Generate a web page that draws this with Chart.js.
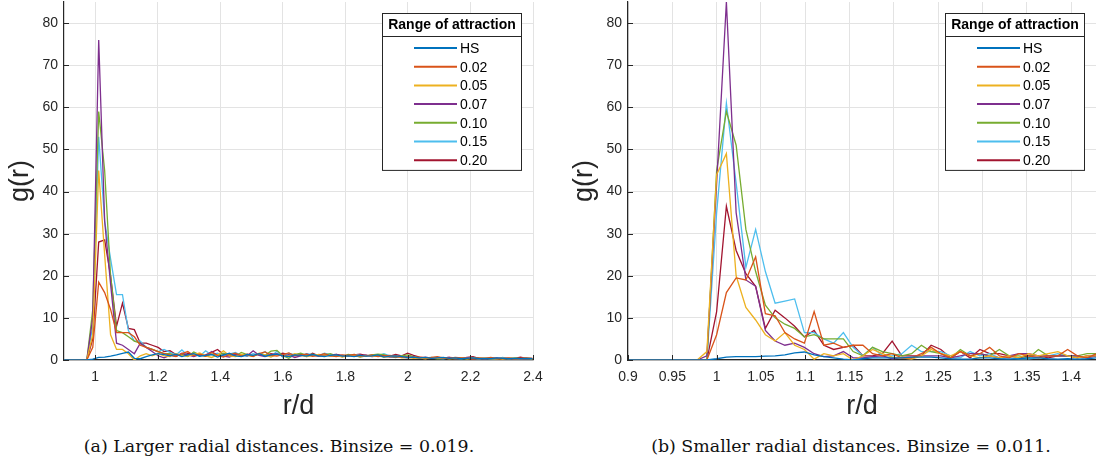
<!DOCTYPE html>
<html>
<head>
<meta charset="utf-8">
<script src="https://cdn.jsdelivr.net/npm/chart.js@4.4.1/dist/chart.umd.min.js"></script>
<style>
  body { margin: 0; width: 1096px; height: 473px; background: #fff; position: relative; overflow: hidden; }
  .panel { position: absolute; top: 0; width: 548px; height: 430px; }
  .cap { position: absolute; top: 436px; font-family: "DejaVu Serif", serif; font-size: 17.4px; color: #111; white-space: nowrap; transform: translateX(-50%); }
</style>
</head>
<body>
<div class="panel" style="left:0"><canvas id="chartA"></canvas></div>
<div class="panel" style="left:548px"><canvas id="chartB"></canvas></div>
<div class="cap" style="left:279px">(a) Larger radial distances. Binsize = 0.019.</div>
<div class="cap" style="left:851px">(b) Smaller radial distances. Binsize = 0.011.</div>
<script>
// legend labels and MATLAB default line colours
const seriesLabels = ['HS', '0.02', '0.05', '0.07', '0.10', '0.15', '0.20'];
const seriesColors = ['#0072BD', '#D95319', '#EDB120', '#7E2F8E', '#77AC30', '#4DBEEE', '#A2142F'];

const yTicks = [0, 10, 20, 30, 40, 50, 60, 70, 80];
const xTicksA = [1, 1.2, 1.4, 1.6, 1.8, 2, 2.2, 2.4];
const xTicksB = [0.9, 0.95, 1, 1.05, 1.1, 1.15, 1.2, 1.25, 1.3, 1.35, 1.4];

// (a) bin centres, binsize 0.019
const rA = [0.897, 0.916, 0.935, 0.954, 0.973, 0.992, 1.011, 1.030, 1.049, 1.068,
  1.087, 1.106, 1.125, 1.144, 1.163, 1.182, 1.201, 1.220, 1.239, 1.258,
  1.277, 1.296, 1.315, 1.334, 1.353, 1.372, 1.391, 1.410, 1.429, 1.448,
  1.467, 1.486, 1.505, 1.524, 1.543, 1.562, 1.581, 1.600, 1.619, 1.638,
  1.657, 1.676, 1.695, 1.714, 1.733, 1.752, 1.771, 1.790, 1.809, 1.828,
  1.847, 1.866, 1.885, 1.904, 1.923, 1.942, 1.961, 1.980, 1.999, 2.018,
  2.037, 2.056, 2.075, 2.094, 2.113, 2.132, 2.151, 2.170, 2.189, 2.208,
  2.227, 2.246, 2.265, 2.284, 2.303, 2.322, 2.341, 2.360, 2.379, 2.398];

const gA_HS = [0, 0, 0, 0, 0, 0.2, 0.6, 0.7, 0.9, 1.2, 1.6, 1.9, 0.4, 0.3, 0.8, 1.2, 1.5, 1.3,
  1.0, 1.4, 0.8, 1.2, 1.5, 0.9, 1.1, 1.3, 0.7, 1.2, 1.6, 1.0, 0.8, 1.3, 1.1, 1.5, 0.9, 1.2, 1.4, 1.0,
  0.8, 1.2, 1.1, 0.9, 1.3, 1.0, 0.8, 1.1, 1.2, 0.9, 1.0, 0.8, 1.1, 0.9, 1.0, 1.2, 0.7, 0.9, 1.0, 0.8,
  0.6, 0.7, 0.5, 0.6, 0.4, 0.5, 0.6, 0.4, 0.5, 0.3, 0.4, 0.5, 0.3, 0.4, 0.3, 0.5, 0.4, 0.3, 0.4, 0.3,
  0.4, 0.3];
const gA_002 = [0, 0, 0, 0, 0, 3, 18.5, 16, 12, 6.5, 6.5, 6.5, 5.5, 3.5, 3, 2.5, 2, 1.5,
  1.2, 0.8, 1.5, 2.0, 1.0, 1.4, 0.9, 1.8, 1.1, 0.7, 1.3, 1.6, 1.0, 1.2, 0.8, 1.5, 1.9, 1.1, 0.9, 1.3,
  1.7, 1.0, 1.2, 1.4, 0.9, 1.1, 1.5, 1.0, 0.8, 1.2, 1.1, 1.3, 0.9, 1.0, 1.2, 0.8, 1.0, 1.1, 0.9, 0.7,
  0.8, 0.6, 0.7, 0.5, 0.6, 0.8, 0.5, 0.4, 0.6, 0.5, 0.4, 0.3, 0.5, 0.4, 0.6, 0.3, 0.4, 0.5, 0.3, 0.4,
  0.5, 0.4];
const gA_005 = [0, 0, 0, 0, 0, 6, 45, 25, 6, 2.5, 2.5, 1.5, 0, 1, 1.5, 1, 1.5, 1,
  0.8, 1.5, 1.1, 0.9, 1.3, 1.7, 1.0, 0.6, 1.2, 2.2, 1.0, 0.8, 1.4, 1.1, 0.9, 1.6, 1.2, 0.7, 1.3, 1.0,
  0.9, 1.5, 1.1, 0.8, 1.0, 1.3, 1.2, 0.9, 1.1, 0.7, 1.0, 1.2, 0.8, 1.1, 0.9, 1.0, 0.7, 0.8, 1.0, 0.5,
  0.6, 0.4, 0.5, 0.3, 0.6, 0.4, 0.5, 0.3, 0.4, 0.5, 0.3, 0.4, 0.3, 0.5, 0.3, 0.4, 0.2, 0.4, 0.3, 0.3,
  0.4, 0.3];
const gA_007 = [0, 0, 0, 0, 0, 10, 76, 33, 18, 4, 3.5, 2.5, 1.5, 4, 3, 2, 1, 0.5,
  1.1, 0.9, 1.6, 1.2, 0.8, 1.3, 1.0, 2.0, 1.1, 0.9, 0.7, 1.4, 1.2, 1.0, 2.2, 1.1, 0.8, 1.3, 1.5, 0.9,
  1.2, 0.6, 1.0, 1.4, 1.1, 0.9, 1.2, 1.0, 1.3, 0.8, 1.1, 0.9, 1.0, 1.2, 0.8, 1.0, 0.9, 0.7, 0.8, 0.6,
  0.5, 0.7, 0.4, 0.6, 0.5, 0.4, 0.5, 0.6, 0.3, 0.4, 0.5, 0.3, 0.4, 0.3, 0.4, 0.5, 0.3, 0.4, 0.3, 0.2,
  0.3, 0.4];
const gA_010 = [0, 0, 0, 0, 0, 12, 59, 45, 20, 7, 6.5, 5.5, 4.5, 4, 3, 2.5, 2, 1.5,
  1.5, 1.0, 1.3, 0.8, 1.9, 1.2, 0.9, 1.4, 1.1, 1.6, 1.2, 0.9, 1.8, 1.3, 1.0, 1.5, 1.1, 2.1, 2.3, 1.0,
  0.4, 1.3, 1.6, 1.1, 1.4, 0.9, 1.2, 1.5, 1.0, 0.8, 1.3, 1.1, 0.7, 1.0, 1.2, 1.4, 1.3, 0.8, 0.6, 1.0,
  1.2, 0.8, 0.5, 0.4, 0.5, 0.3, 0.4, 0.5, 0.3, 0.4, 0.3, 0.5, 0.4, 0.3, 0.4, 0.3, 0.4, 0.3, 0.5, 0.3,
  0.4, 0.3];
const gA_015 = [0, 0, 0, 0, 0, 8, 53, 33, 24, 15.5, 15.5, 7, 4.5, 4.5, 3, 2.5, 2, 2.5,
  1.8, 1.2, 2.4, 1.0, 1.4, 0.9, 2.2, 1.2, 1.6, 1.0, 1.4, 1.8, 1.1, 0.9, 1.5, 1.2, 2.0, 0.8, 2.1, 0.6,
  1.6, 1.2, 1.0, 1.5, 1.3, 1.0, 1.6, 1.2, 0.9, 1.1, 1.0, 1.3, 1.1, 0.9, 1.2, 1.0, 1.5, 1.0, 0.7, 0.9,
  0.6, 0.5, 0.4, 0.5, 0.6, 0.4, 0.3, 0.5, 0.4, 0.3, 0.5, 0.4, 0.3, 0.4, 0.3, 0.2, 0.6, 0.3, 0.4, 0.3,
  0.4, 0.3];
const gA_020 = [0, 0, 0, 0, 0, 5, 28, 28.5, 20, 8, 13.5, 7.5, 7.2, 4, 4, 3.5, 3, 2,
  2.2, 1.3, 1.0, 1.6, 1.4, 1.1, 1.2, 1.8, 2.5, 1.3, 1.0, 1.2, 0.9, 1.4, 1.1, 1.3, 1.0, 1.5, 1.2, 1.6,
  1.3, 1.2, 1.4, 0.8, 1.6, 1.0, 1.1, 1.2, 1.3, 1.1, 1.0, 1.2, 1.4, 1.1, 1.0, 1.2, 1.1, 0.9, 1.3, 1.0,
  1.6, 1.1, 0.7, 0.6, 0.5, 0.4, 0.5, 0.6, 0.5, 0.4, 0.6, 0.8, 0.4, 0.3, 0.4, 0.3, 0.4, 0.3, 0.4, 0.7,
  0.4, 0.3];

// (b) bin centres, binsize 0.011
const rB = [0.901, 0.912, 0.923, 0.934, 0.945, 0.956, 0.967, 0.978, 0.989, 1.000,
  1.011, 1.022, 1.033, 1.044, 1.055, 1.066, 1.077, 1.088, 1.099, 1.110,
  1.121, 1.132, 1.143, 1.154, 1.165, 1.176, 1.187, 1.198, 1.209, 1.220,
  1.231, 1.242, 1.253, 1.264, 1.275, 1.286, 1.297, 1.308, 1.319, 1.330,
  1.341, 1.352, 1.363, 1.374, 1.385, 1.396, 1.407, 1.418, 1.429];

const gB_HS = [0, 0, 0, 0, 0, 0, 0, 0, 0, 0.3, 0.7, 0.8, 0.8, 0.8, 0.9, 1.0, 1.2, 1.7, 1.9, 1.2,
  0.8, 0.5, 0.2, 0, 0.3, 0.5, 0.5, 0.5, 0.5, 0.7, 0.7, 0.7, 0.5, 0.3, 0.2, 0.2, 0.5, 0.5, 0.3, 0.2,
  0.3, 0.5, 0.5, 0.3, 0.2, 0.3, 0.2, 0.3, 0.5];
const gB_002 = [0, 0, 0, 0, 0, 0, 0, 0, 0, 6, 16, 19.5, 19, 24.5, 11, 10.5, 6.5, 5, 4, 11.5,
  3.5, 4, 3, 3.5, 3.5, 1.5, 1, 1.5, 0.5, 0.5, 1.5, 3, 1.5, 0.5, 2, 1, 1.5, 3, 1, 0.5,
  1.5, 1, 0.5, 1, 1, 2.5, 1, 0.5, 1.5];
const gB_005 = [0, 0, 0, 0, 0, 0, 0, 0, 2, 44, 49, 20, 12.5, 9.5, 6, 4.5, 6.5, 3.5, 2.5, 0.2,
  1.5, 1, 1.5, 0, 1, 2.5, 1.5, 0.7, 0.5, 0.2, 1, 2.5, 1.5, 1, 2, 1, 0.5, 1, 0.5, 1,
  0.5, 1.5, 1, 1.5, 2, 1, 0.5, 1, 1];
const gB_007 = [0, 0, 0, 0, 0, 0, 0, 0, 1, 42, 85, 35, 19, 17.5, 7, 4.5, 3.5, 4, 3, 1.5,
  0.8, 1, 2, 0.5, 0.5, 0.8, 1, 0.3, 0.5, 0.5, 1, 1, 1, 0.5, 1, 1.5, 1.5, 1, 0.5, 1,
  1.5, 1.5, 1, 1, 1, 1, 1, 0.5, 1];
const gB_010 = [0, 0, 0, 0, 0, 0, 0, 0, 0, 45, 59, 51, 31, 21, 13, 10, 8.5, 7.5, 5.5, 6,
  5, 5, 5, 2, 1, 3, 2, 1.5, 1, 1.5, 3.5, 2, 1.5, 0.5, 2.5, 1, 1.5, 1, 2.5, 1,
  1, 0.5, 2.5, 1, 1, 1, 1, 1.5, 1.5];
const gB_015 = [0, 0, 0, 0, 0, 0, 0, 0, 0, 35, 61, 42, 22, 31, 21, 13.5, 14, 14.5, 6.5, 6.5,
  5, 4, 6.5, 3, 1, 3, 1, 1, 1.5, 3.5, 2, 2, 2, 1, 0.5, 2, 1, 1.5, 0.5, 0.5,
  0.3, 0.3, 0.5, 1, 1.5, 1, 1, 0.5, 1.5];
const gB_020 = [0, 0, 0, 0, 0, 0, 0, 0, 0, 11.5, 36.5, 26, 20.5, 17.5, 7.5, 11.8, 10, 8, 5.5, 7,
  3.5, 2.5, 3, 3.5, 1, 1, 1.5, 4.5, 1, 1, 1, 3.5, 2.5, 0.5, 2, 0.5, 2.5, 1.5, 1.5, 1,
  0.5, 1, 1, 0.5, 1, 1, 0.5, 1, 1];

const seriesA = [gA_HS, gA_002, gA_005, gA_007, gA_010, gA_015, gA_020];
const seriesB = [gB_HS, gB_002, gB_005, gB_007, gB_010, gB_015, gB_020];

const axisColor = '#262626';
const gridColor = '#e3e3e3';
const tickFont = { family: '"Liberation Sans", Arial, sans-serif', size: 14 };
const titleFont = { family: '"Liberation Sans", Arial, sans-serif', size: 27 };

function fmt(v) {
  return String(Number(v.toFixed(2)));
}

// boxed MATLAB-style legend with a title row
const legendBox = {
  id: 'legendBox',
  afterDraw(chart) {
    const { ctx, chartArea } = chart;
    const sets = chart.data.datasets;
    const w = 139, titleH = 23, rowH = 18.7;
    const h = titleH + sets.length * rowH + 3;
    const x0 = Math.round(chartArea.right - 12 - w), y0 = Math.round(chartArea.top + 11);
    ctx.save();
    ctx.fillStyle = '#fff';
    ctx.fillRect(x0, y0, w, h);
    ctx.strokeStyle = axisColor;
    ctx.lineWidth = 1;
    ctx.strokeRect(x0 + 0.5, y0 + 0.5, w, h);
    ctx.beginPath();
    ctx.moveTo(x0, y0 + titleH + 0.5);
    ctx.lineTo(x0 + w, y0 + titleH + 0.5);
    ctx.stroke();
    ctx.fillStyle = '#000';
    ctx.font = 'bold 14px "Liberation Sans", Arial, sans-serif';
    ctx.textAlign = 'center';
    ctx.textBaseline = 'middle';
    ctx.fillText('Range of attraction', x0 + w / 2 + 0.5, y0 + titleH / 2 + 1);
    ctx.font = '14px "Liberation Sans", Arial, sans-serif';
    ctx.textAlign = 'left';
    sets.forEach((ds, i) => {
      const y = y0 + titleH + 12 + i * rowH;
      ctx.strokeStyle = ds.borderColor;
      ctx.lineWidth = 2;
      ctx.beginPath();
      ctx.moveTo(x0 + 32, y);
      ctx.lineTo(x0 + 75, y);
      ctx.stroke();
      ctx.fillStyle = '#000';
      ctx.fillText(ds.label, x0 + 78, y + 1);
    });
    ctx.restore();
  }
};

// short inward tick marks on the two axis lines
const innerTicks = {
  id: 'innerTicks',
  afterDatasetsDraw(chart) {
    const { ctx, chartArea, scales } = chart;
    ctx.save();
    ctx.strokeStyle = axisColor;
    ctx.lineWidth = 1;
    ctx.beginPath();
    scales.x.ticks.forEach(t => {
      const x = Math.round(scales.x.getPixelForValue(t.value)) + 0.5;
      ctx.moveTo(x, chartArea.bottom);
      ctx.lineTo(x, chartArea.bottom - 5);
    });
    scales.y.ticks.forEach(t => {
      const y = Math.round(scales.y.getPixelForValue(t.value)) + 0.5;
      ctx.moveTo(chartArea.left, y);
      ctx.lineTo(chartArea.left + 5, y);
    });
    ctx.stroke();
    ctx.restore();
  }
};

function makeChart(id, rs, series, xMin, xMax, xTicks, padding) {
  const datasets = series.map((vals, i) => ({
    label: seriesLabels[i],
    data: vals.map((g, k) => ({ x: rs[k], y: g })),
    borderColor: seriesColors[i],
    backgroundColor: seriesColors[i],
    borderWidth: 1.3,
    pointRadius: 0,
    tension: 0,
    fill: false
  }));
  return new Chart(document.getElementById(id), {
    type: 'line',
    data: { datasets },
    options: {
      responsive: true,
      maintainAspectRatio: false,
      animation: false,
      layout: { padding },
      plugins: { legend: { display: false }, tooltip: { enabled: false } },
      scales: {
        x: {
          type: 'linear',
          min: xMin,
          max: xMax,
          afterBuildTicks: s => { s.ticks = xTicks.map(v => ({ value: v })); },
          afterFit: s => { s.height = 70; s.paddingLeft = 0; s.paddingRight = 0; },
          ticks: { color: axisColor, font: tickFont, padding: 9, autoSkip: false, maxRotation: 0, callback: v => fmt(v) },
          grid: { color: gridColor, drawTicks: false },
          border: { display: true, color: axisColor, width: 1.2 },
          title: { display: true, text: 'r/d', color: axisColor, font: titleFont, padding: { top: 0, bottom: 7 } }
        },
        y: {
          type: 'linear',
          min: 0,
          max: 85,
          afterBuildTicks: s => { s.ticks = yTicks.map(v => ({ value: v })); },
          afterFit: s => { s.width = 64; s.paddingTop = 0; s.paddingBottom = 0; },
          ticks: { color: axisColor, font: tickFont, padding: 6, autoSkip: false, callback: v => fmt(v) },
          grid: { color: gridColor, drawTicks: false },
          border: { display: true, color: axisColor, width: 1.2 },
          title: { display: true, text: 'g(r)', color: axisColor, font: titleFont, padding: { top: 4, bottom: 0 } }
        }
      }
    },
    plugins: [innerTicks, legendBox]
  });
}

makeChart('chartA', rA, seriesA, 0.9, 2.4, xTicksA, { left: 0, right: 15, top: 2, bottom: 0 });
makeChart('chartB', rB, seriesB, 0.9, 1.428, xTicksB, { left: 16, right: 0, top: 2, bottom: 0 });
</script>
</body>
</html>
